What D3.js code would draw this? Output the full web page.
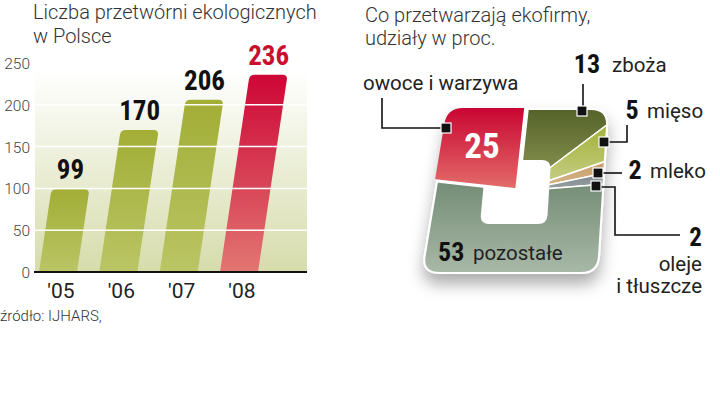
<!DOCTYPE html>
<html>
<head>
<meta charset="utf-8">
<script src="https://cdn.jsdelivr.net/npm/d3@7"></script>
<style>
  body { margin: 0; background: #fff; }
  svg { display: block; }
  .light { font-family: Roboto, "Open Sans", sans-serif; font-weight: 300; }
  .reg { font-family: Roboto, "Open Sans", sans-serif; font-weight: 400; }
  .num { font-family: "Liberation Sans Narrow", "Roboto Condensed", Roboto, sans-serif; font-weight: 700; }
</style>
</head>
<body>
<svg id="chart" width="720" height="398"></svg>
<script>
// bar chart data
const years = ["'05", "'06", "'07", "'08"];
const plants = [99, 170, 206, 236];
const yTicks = [0, 50, 100, 150, 200, 250];

// pie data (clockwise, starting at the top)
const sectors = ["zboża", "mięso", "mleko", "oleje i tłuszcze", "pozostałe", "owoce i warzywa"];
const shares = [13, 5, 2, 2, 53, 25];

const svg = d3.select("#chart");
const defs = svg.append("defs");

// ---------- left: bar chart ----------
const base = 272;
const y = d3.scaleLinear().domain([0, 250]).range([base, 63]);
const x = d3.scalePoint().domain(years).range([58, 239]);
const barW = 38;
const lean = 0.15; // bars lean right, like the pie

svg.append("text").attr("class", "light")
  .attr("x", 33).attr("y", 19).attr("font-size", 20).attr("fill", "#333")
  .text("Liczba przetwórni ekologicznych");
svg.append("text").attr("class", "light")
  .attr("x", 33).attr("y", 43).attr("font-size", 20).attr("fill", "#333")
  .text("w Polsce");

const bg = defs.append("linearGradient").attr("id", "panel")
  .attr("x1", 0).attr("y1", 0).attr("x2", 0).attr("y2", 1);
bg.append("stop").attr("offset", 0).attr("stop-color", "#fff");
bg.append("stop").attr("offset", 1).attr("stop-color", "#d6dcab");

svg.append("rect")
  .attr("x", 35).attr("y", 70).attr("width", 272).attr("height", base - 70)
  .attr("fill", "url(#panel)");

const gGreen = defs.append("linearGradient").attr("id", "barGreen")
  .attr("x1", 0).attr("y1", 0).attr("x2", 0).attr("y2", 1);
gGreen.append("stop").attr("offset", 0).attr("stop-color", "#a2ae36");
gGreen.append("stop").attr("offset", 1).attr("stop-color", "#bac565");

const gRed = defs.append("linearGradient").attr("id", "barRed")
  .attr("x1", 0).attr("y1", 0).attr("x2", 0).attr("y2", 1);
gRed.append("stop").attr("offset", 0).attr("stop-color", "#cd0636");
gRed.append("stop").attr("offset", 1).attr("stop-color", "#e27672");

const barPath = (yr, v) => {
  const x0 = x(yr) - barW / 2;
  const yt = y(v);
  const off = lean * (base - yt);
  const r = 5;
  const p = d3.path();
  p.moveTo(x0, base);
  p.lineTo(x0 + off - r * lean, yt + r);
  p.quadraticCurveTo(x0 + off, yt, x0 + off + r, yt);
  p.lineTo(x0 + off + barW - r, yt);
  p.quadraticCurveTo(x0 + off + barW, yt, x0 + off + barW - r * lean, yt + r);
  p.lineTo(x0 + barW, base);
  p.closePath();
  return p.toString();
};

svg.append("g").selectAll("path")
  .data(years)
  .join("path")
  .attr("d", (yr, i) => barPath(yr, plants[i]))
  .attr("fill", (yr, i) => (i === years.length - 1 ? "url(#barRed)" : "url(#barGreen)"));

// white gridlines over the bars
svg.append("g").selectAll("line")
  .data(yTicks.filter((t) => t > 0 && t < 250))
  .join("line")
  .attr("x1", 35).attr("x2", 307)
  .attr("y1", (t) => y(t)).attr("y2", (t) => y(t))
  .attr("stroke", "#fff").attr("stroke-width", 1.5);

// value labels over the bar tops
svg.append("g").selectAll("text")
  .data(years)
  .join("text")
  .attr("class", "num")
  .attr("x", (yr, i) => x(yr) + lean * (base - y(plants[i])))
  .attr("y", (yr, i) => y(plants[i]) - 10)
  .attr("text-anchor", "middle")
  .attr("font-size", 27)
  .attr("fill", (yr, i) => (i === years.length - 1 ? "#c8102e" : "#111"))
  .text((yr, i) => plants[i]);

const yAxis = svg.append("g")
  .attr("transform", "translate(30,0)")
  .call(d3.axisLeft(y).tickValues(yTicks).tickSize(0).tickPadding(0));
yAxis.select(".domain").remove();
yAxis.selectAll("text")
  .attr("class", "light")
  .attr("font-size", 15.5)
  .attr("fill", "#444")
  .attr("dy", "0.36em");

svg.append("line")
  .attr("x1", 34).attr("x2", 307).attr("y1", base).attr("y2", base)
  .attr("stroke", "#111").attr("stroke-width", 2);

svg.append("g").selectAll("text")
  .data(years)
  .join("text")
  .attr("class", "reg")
  .attr("x", (yr) => x(yr) + 3)
  .attr("y", 298)
  .attr("text-anchor", "middle")
  .attr("font-size", 21)
  .attr("fill", "#222")
  .text((yr) => yr);

svg.append("text").attr("class", "light")
  .attr("x", 0).attr("y", 321).attr("font-size", 15).attr("fill", "#333")
  .text("źródło: IJHARS,");

// ---------- right: pie in a rounded, slanted square ----------
svg.append("text").attr("class", "light")
  .attr("x", 365).attr("y", 22).attr("font-size", 20).attr("fill", "#333")
  .text("Co przetwarzają ekofirmy,");
svg.append("text").attr("class", "light")
  .attr("x", 365).attr("y", 45).attr("font-size", 20).attr("fill", "#333")
  .text("udziały w proc.");

const cx = 519, cy = 191;

// rounded polygon through the given corners
const roundedPoly = (pts, r) => {
  const p = d3.path();
  const n = pts.length;
  pts.forEach((c, i) => {
    const prev = pts[(i + n - 1) % n];
    const next = pts[(i + 1) % n];
    const d1 = Math.hypot(prev[0] - c[0], prev[1] - c[1]);
    const d2 = Math.hypot(next[0] - c[0], next[1] - c[1]);
    const a = [c[0] + (prev[0] - c[0]) * r / d1, c[1] + (prev[1] - c[1]) * r / d1];
    const b = [c[0] + (next[0] - c[0]) * r / d2, c[1] + (next[1] - c[1]) * r / d2];
    if (i === 0) p.moveTo(a[0], a[1]); else p.lineTo(a[0], a[1]);
    p.quadraticCurveTo(c[0], c[1], b[0], b[1]);
  });
  p.closePath();
  return p.toString();
};

const outer = [[450, 110], [607, 110], [597, 272], [423, 272]];
const hole = [[486, 160], [551, 160], [547, 224], [480, 224]];

const shadow = defs.append("filter").attr("id", "shadow")
  .attr("x", "-30%").attr("y", "-30%").attr("width", "160%").attr("height", "160%");
shadow.append("feDropShadow")
  .attr("dx", 0).attr("dy", 10).attr("stdDeviation", 8)
  .attr("flood-color", "#000").attr("flood-opacity", 0.33);

defs.append("clipPath").attr("id", "pieClip")
  .append("path").attr("d", roundedPoly(outer, 16));

svg.append("path")
  .attr("d", roundedPoly(outer, 16))
  .attr("fill", "#fff").attr("stroke", "#fff").attr("stroke-width", 4)
  .attr("filter", "url(#shadow)");

// [top colour, bottom colour, gradient top y, gradient bottom y] in page pixels
const sliceColors = [
  ["#56632a", "#86914f", 110, 175],
  ["#a6b440", "#c4cc80", 130, 180],
  ["#c9a06c", "#d4b488", 165, 185],
  ["#7e888a", "#9aa3a4", 175, 190],
  ["#768e77", "#a8b8a7", 185, 272],
  ["#c90532", "#e36e6b", 110, 192],
];
sliceColors.forEach(([top, bottom, y1, y2], i) => {
  // slice paths are drawn translated to the pie centre
  const g = defs.append("linearGradient").attr("id", "slice" + i)
    .attr("gradientUnits", "userSpaceOnUse")
    .attr("x1", 0).attr("y1", y1 - cy).attr("x2", 0).attr("y2", y2 - cy);
  g.append("stop").attr("offset", 0).attr("stop-color", top);
  g.append("stop").attr("offset", 1).attr("stop-color", bottom);
});

const start = 0.11;
const pie = d3.pie().sort(null).value((d) => d)
  .startAngle(start).endAngle(start + 2 * Math.PI);
const arcs = pie(shares);
const arc = d3.arc().innerRadius(0).outerRadius(260);
const lifted = shares.length - 1; // owoce i warzywa is pulled out

const drawSlice = (d, i) => {
  const g = svg.append("g")
    .attr("transform", i === lifted ? "translate(-3,-2)" : null);
  g.append("g").attr("clip-path", "url(#pieClip)")
    .append("path")
    .attr("transform", `translate(${cx},${cy})`)
    .attr("d", arc(d))
    .attr("fill", `url(#slice${i})`)
    .attr("stroke", "#fff").attr("stroke-width", 1.5);
};

arcs.forEach((d, i) => { if (i !== lifted) drawSlice(d, i); });

svg.append("path")
  .attr("d", roundedPoly(hole, 9))
  .attr("fill", "#fff");

drawSlice(arcs[lifted], lifted);

// leaders: [line points, marker]
const leaders = [
  [[[583, 84], [583, 110]], [582, 111]],
  [[[627, 125], [627, 142], [604, 142]], [604, 142]],
  [[[622, 173], [599, 173]], [598, 173]],
  [[[596, 187], [615, 187], [615, 235], [680, 235]], [596, 186]],
  null,
  [[[382, 98], [382, 128], [445, 128]], [446, 128]],
];

const lg = svg.append("g");
leaders.forEach((l) => {
  if (!l) return;
  lg.append("path")
    .attr("d", d3.line()(l[0]))
    .attr("fill", "none").attr("stroke", "#111").attr("stroke-width", 1.6);
  lg.append("rect")
    .attr("x", l[1][0] - 5).attr("y", l[1][1] - 5)
    .attr("width", 10).attr("height", 10)
    .attr("fill", "#111").attr("stroke", "#fff").attr("stroke-width", 1.2);
});

// labels
const lab = svg.append("g");
const numLabel = (xx, yy, v, anchor, size, color) =>
  lab.append("text").attr("class", "num")
    .attr("x", xx).attr("y", yy).attr("text-anchor", anchor)
    .attr("font-size", size).attr("fill", color).text(v);
const wordLabel = (xx, yy, s, anchor) =>
  lab.append("text").attr("class", "reg")
    .attr("x", xx).attr("y", yy).attr("text-anchor", anchor)
    .attr("font-size", 20.5).attr("fill", "#222").text(s);

numLabel(587, 73, shares[0], "middle", 26, "#111");
wordLabel(612, 72, sectors[0], "start");
numLabel(632, 119, shares[1], "middle", 26, "#111");
wordLabel(647, 118, sectors[1], "start");
numLabel(635, 179, shares[2], "middle", 26, "#111");
wordLabel(650, 178, sectors[2], "start");
numLabel(702, 246, shares[3], "end", 25, "#111");
wordLabel(702, 271, "oleje", "end");
wordLabel(702, 293, "i tłuszcze", "end");
numLabel(438, 261, shares[4], "start", 26, "#111");
wordLabel(473, 260, sectors[4], "start");
numLabel(482, 158, shares[5], "middle", 35, "#fff");
wordLabel(363, 90, sectors[5], "start");
</script>
</body>
</html>
